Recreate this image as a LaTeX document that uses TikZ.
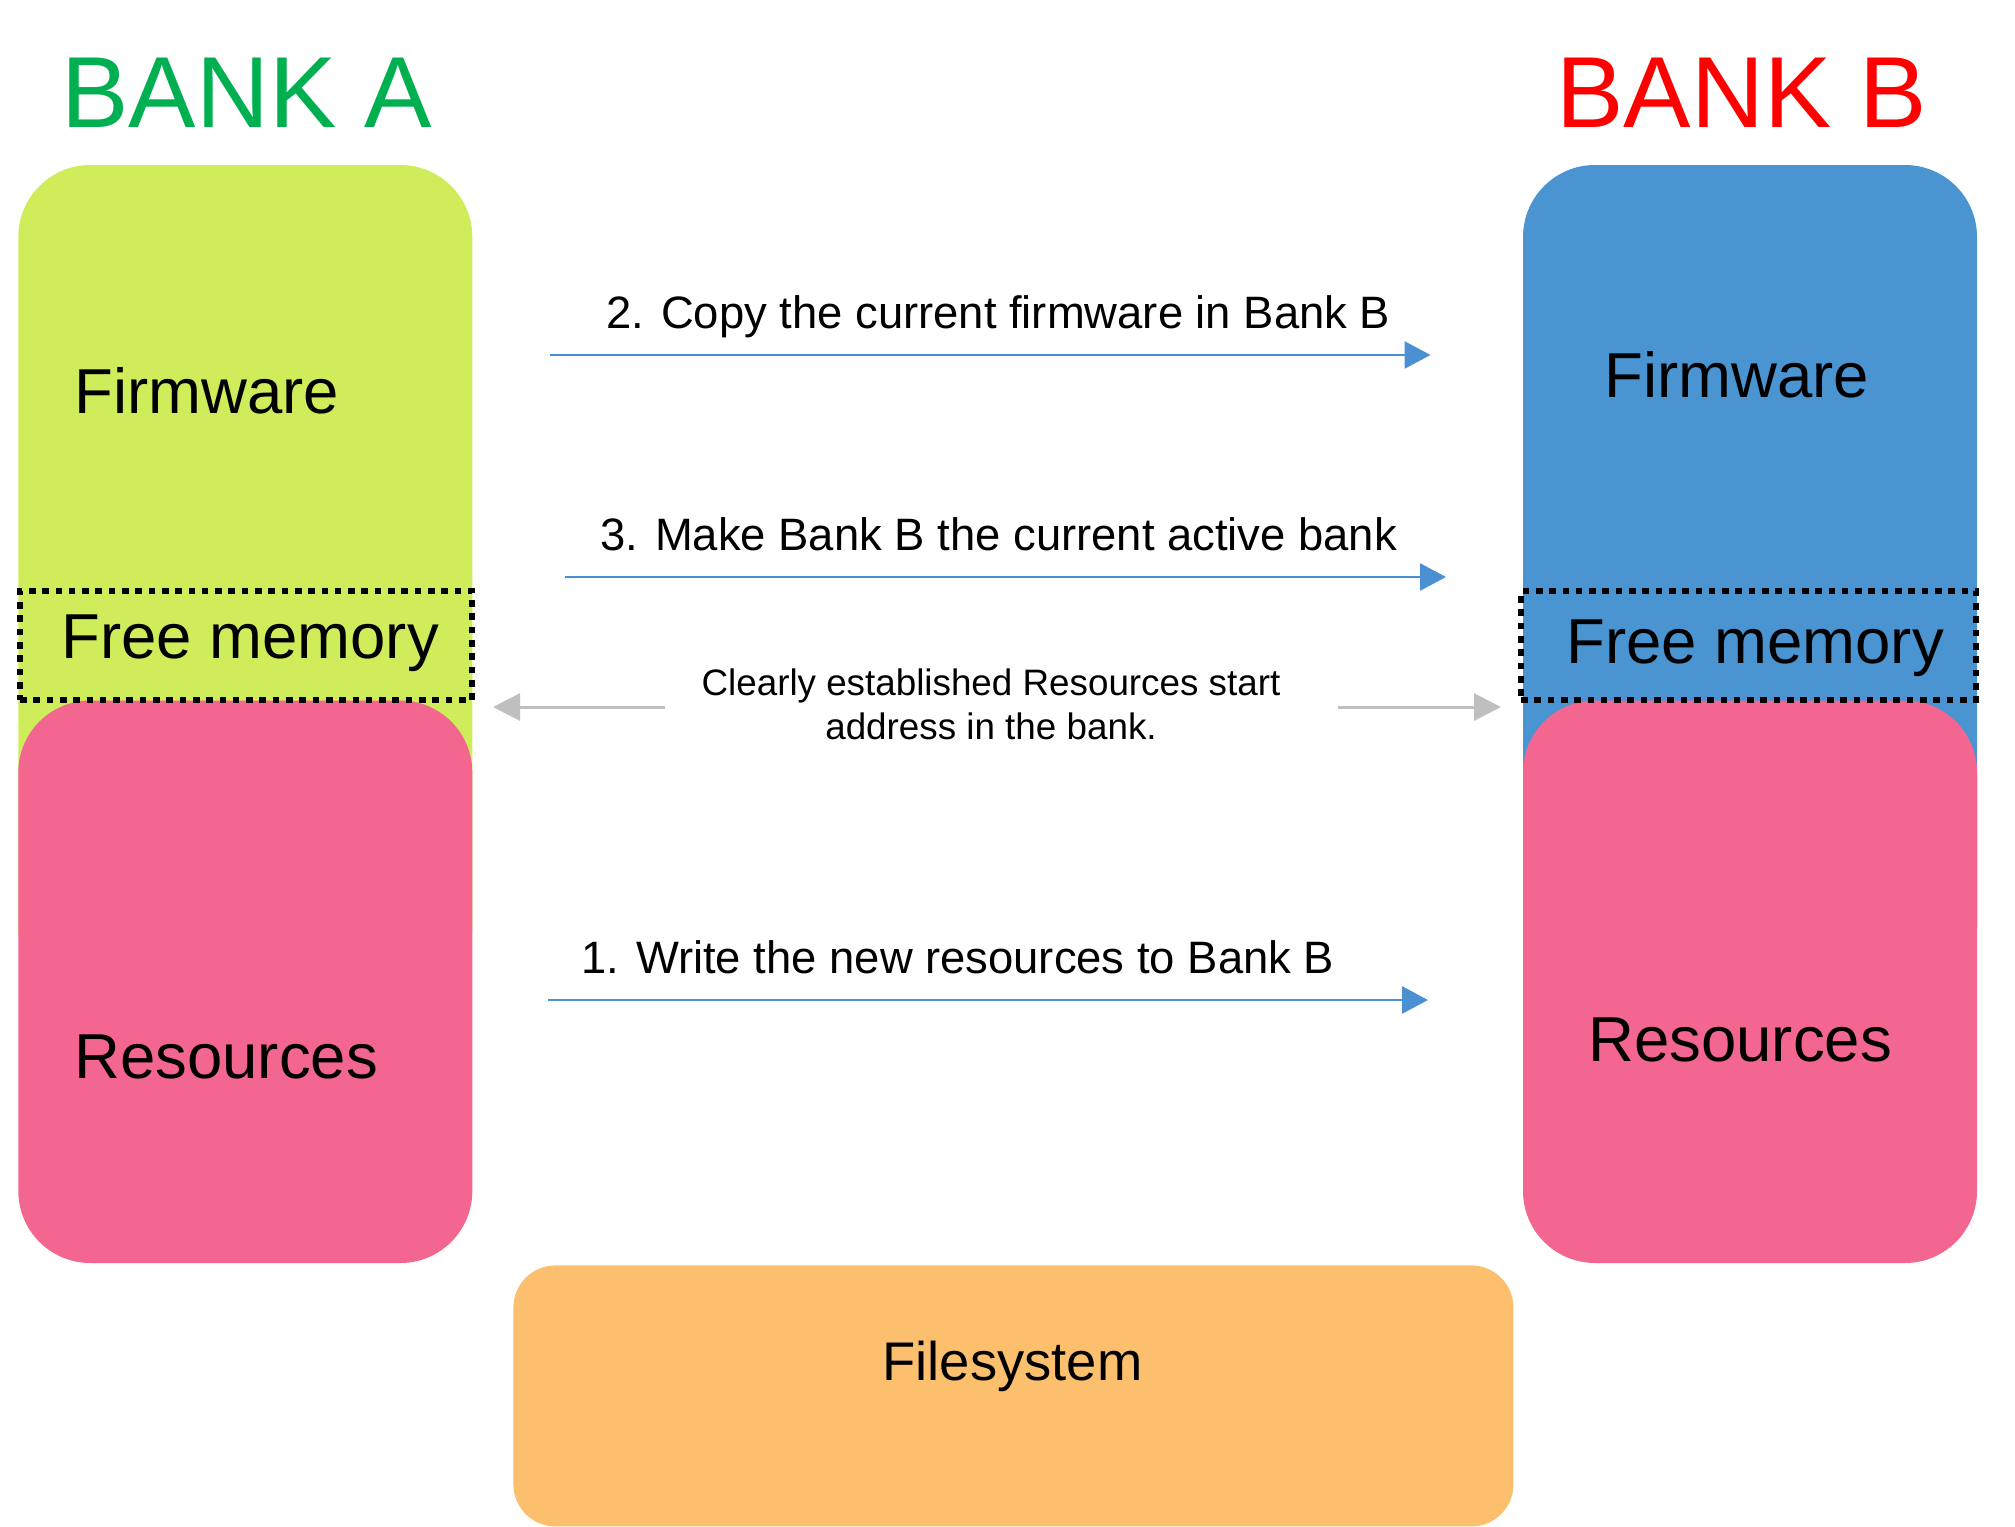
\documentclass[tikz,border=0pt]{standalone}
\usepackage{fontspec}
\setmainfont{Liberation Sans}
\usetikzlibrary{arrows.meta}
\definecolor{bankgreen}{HTML}{00B050}
\definecolor{lime}{HTML}{CFED5A}
\definecolor{sky}{HTML}{4A94D2}
\definecolor{rose}{HTML}{F3668F}
\definecolor{sand}{HTML}{FCBF6D}
\definecolor{flowblue}{HTML}{4A90D2}
\begin{document}
\begin{tikzpicture}[x=0.5pt,y=-0.5pt,
    blk/.style={anchor=north west,inner sep=0,outer sep=0,rounded corners=36pt,minimum width=227pt},
    free/.style={anchor=north west,inner sep=0,draw=black,line width=3pt,dash pattern=on 3.3pt off 3.35pt,minimum height=54.5pt},
    txt/.style={anchor=base west,inner sep=0},
    big/.style={txt,font=\fontsize{31.75}{38}\selectfont},
    steptxt/.style={txt,font=\fontsize{22.7}{27}\selectfont},
    flow/.style={-{Triangle[length=13pt,width=13.5pt]},draw=flowblue,line width=1.35pt},
    hint/.style={-{Triangle[length=13.5pt,width=13.5pt]},draw=black!25,line width=1.5pt}]
\useasboundingbox (0,0) rectangle (2015,1527);
\node[txt,text=bankgreen,font=\fontsize{50.5}{60}\selectfont] (bankA) at (61,127) {BANK A};
\node[txt,text=red,font=\fontsize{50.5}{60}\selectfont] (bankB) at (1556,127) {BANK B};
\node[blk,fill=lime,minimum height=417.5pt] (fwA) at (18.3,165) {};
\node[blk,fill=sky,minimum height=417.5pt] (fwB) at (1523,165) {};
\node[blk,fill=rose,minimum height=281.25pt] (resA) at (18.3,700.5) {};
\node[blk,fill=rose,minimum height=281.25pt] (resB) at (1523,700.5) {};
\node[free,minimum width=226pt] (freeA) at (17,588) {};
\node[free,minimum width=227.5pt] (freeB) at (1518,588) {};
\node[anchor=north west,inner sep=0,fill=sand,rounded corners=21pt,minimum width=500pt,minimum height=130.5pt] (fs) at (513,1265) {};
\node[big] (fwAtxt) at (74,413) {Firmware};
\node[big] (fwBtxt) at (1604,397) {Firmware};
\node[big] (freeAtxt) at (61,658) {Free memory};
\node[big] (freeBtxt) at (1566,663) {Free memory};
\node[big] (resAtxt) at (74,1078) {Resources};
\node[big] (resBtxt) at (1588,1061) {Resources};
\node[txt,font=\fontsize{27.2}{33}\selectfont] (fstxt) at (882,1380) {Filesystem};
\node[steptxt] (stepB) at (606,328) {2. Copy the current firmware in Bank B};
\node[steptxt] (stepC) at (600,550) {3. Make Bank B the current active bank};
\node[steptxt] (stepA) at (581,973) {1. Write the new resources to Bank B};
\foreach \n/\xa/\xb/\y in {one/548/1428/1000,two/549.5/1430.5/355,three/565/1446/577}{
    \coordinate (\n s) at (\xa,\y); \coordinate (\n e) at (\xb,\y); \draw[flow] (\n s)--(\n e);}
\node[align=center,anchor=base,inner sep=0,font=\fontsize{18.4}{21.75}\selectfont] (note) at (991,739) {Clearly established Resources start\\address in the bank.};
\coordinate (hAs) at (665,707); \coordinate (hAe) at (493,707); \draw[hint] (hAs)--(hAe);
\coordinate (hBs) at (1338,707); \coordinate (hBe) at (1501,707); \draw[hint] (hBs)--(hBe);
\end{tikzpicture}
\end{document}
